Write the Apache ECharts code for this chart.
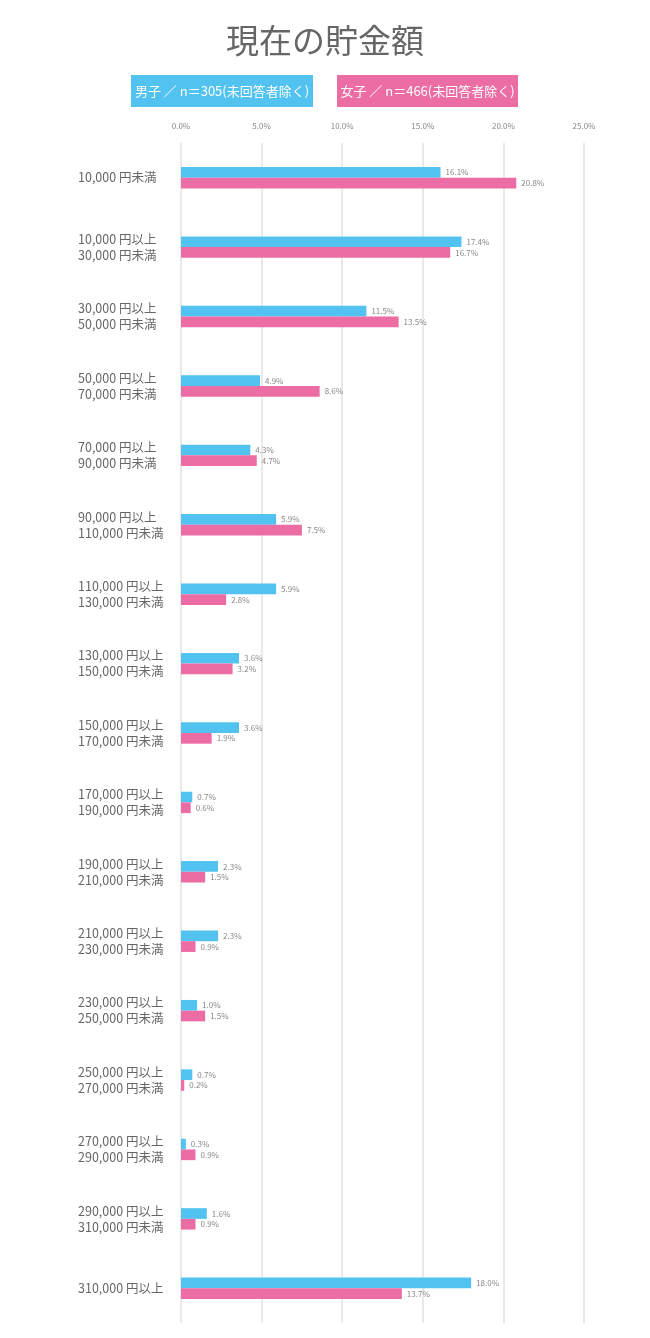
<!DOCTYPE html>
<html><head><meta charset="utf-8">
<script src="https://cdn.jsdelivr.net/npm/echarts@6/dist/echarts.min.js"></script>
<style>html,body{margin:0;padding:0;background:#fff}#c{width:650px;height:1338px}</style>
</head><body><div id="c"></div>
<script>
const title = '現在の貯金額';
const seriesNames = ['男子 ／ n＝305(未回答者除く)', '女子 ／ n＝466(未回答者除く)'];
const categories = [
  '10,000 円未満',
  '10,000 円以上\n30,000 円未満',
  '30,000 円以上\n50,000 円未満',
  '50,000 円以上\n70,000 円未満',
  '70,000 円以上\n90,000 円未満',
  '90,000 円以上\n110,000 円未満',
  '110,000 円以上\n130,000 円未満',
  '130,000 円以上\n150,000 円未満',
  '150,000 円以上\n170,000 円未満',
  '170,000 円以上\n190,000 円未満',
  '190,000 円以上\n210,000 円未満',
  '210,000 円以上\n230,000 円未満',
  '230,000 円以上\n250,000 円未満',
  '250,000 円以上\n270,000 円未満',
  '270,000 円以上\n290,000 円未満',
  '290,000 円以上\n310,000 円未満',
  '310,000 円以上'
];
const male = [16.1,17.4,11.5,4.9,4.3,5.9,5.9,3.6,3.6,0.7,2.3,2.3,1.0,0.7,0.3,1.6,18.0];
const female = [20.8,16.7,13.5,8.6,4.7,7.5,2.8,3.2,1.9,0.6,1.5,0.9,1.5,0.2,0.9,0.9,13.7];
const colors = ['#52c3f1', '#ec6ca4'];

const chart = echarts.init(document.getElementById('c'));
const fontFam = '"Noto Sans CJK JP","Noto Sans",sans-serif';
chart.setOption({
  animation: false,
  textStyle: {fontFamily: fontFam},
  title: {text: title, left: 'center', top: 19, textStyle: {fontSize: 33, fontWeight: 'normal', color: '#666', fontFamily: fontFam}},
  graphic: [
    {type: 'group', left: 131, top: 75, children: [
      {type: 'rect', shape: {x: 0, y: 0, width: 182, height: 32}, style: {fill: colors[0]}},
      {type: 'text', style: {x: 91, y: 16, text: seriesNames[0], fill: '#fff', fontSize: 13, fontFamily: fontFam, textAlign: 'center', textVerticalAlign: 'middle'}}
    ]},
    {type: 'group', left: 337, top: 75, children: [
      {type: 'rect', shape: {x: 0, y: 0, width: 181, height: 32}, style: {fill: colors[1]}},
      {type: 'text', style: {x: 90.5, y: 16, text: seriesNames[1], fill: '#fff', fontSize: 13, fontFamily: fontFam, textAlign: 'center', textVerticalAlign: 'middle'}}
    ]}
  ],
  grid: {left: 181, right: 66, top: 143, bottom: 15, containLabel: false},
  xAxis: {
    type: 'value', position: 'top', min: 0, max: 25, interval: 5,
    axisLine: {show: false}, axisTick: {show: false},
    axisLabel: {formatter: v => v.toFixed(1) + '%', fontSize: 8, color: '#888', margin: 13},
    splitLine: {lineStyle: {color: '#e2e2e2', width: 1.5}}
  },
  yAxis: {
    type: 'category', inverse: true, data: categories,
    axisLine: {show: false}, axisTick: {show: false},
    axisLabel: {align: 'left', margin: 103, fontSize: 12.5, color: '#666', lineHeight: 16}
  },
  series: [
    {name: seriesNames[0], type: 'bar', data: male, barWidth: 10.7, barGap: '0%', itemStyle: {color: colors[0]},
     label: {show: true, position: 'right', distance: 5, fontSize: 8, color: '#888', formatter: p => p.value.toFixed(1) + '%'}},
    {name: seriesNames[1], type: 'bar', data: female, barWidth: 10.7, barGap: '0%', itemStyle: {color: colors[1]},
     label: {show: true, position: 'right', distance: 5, fontSize: 8, color: '#888', formatter: p => p.value.toFixed(1) + '%'}}
  ]
});
</script></body></html>
